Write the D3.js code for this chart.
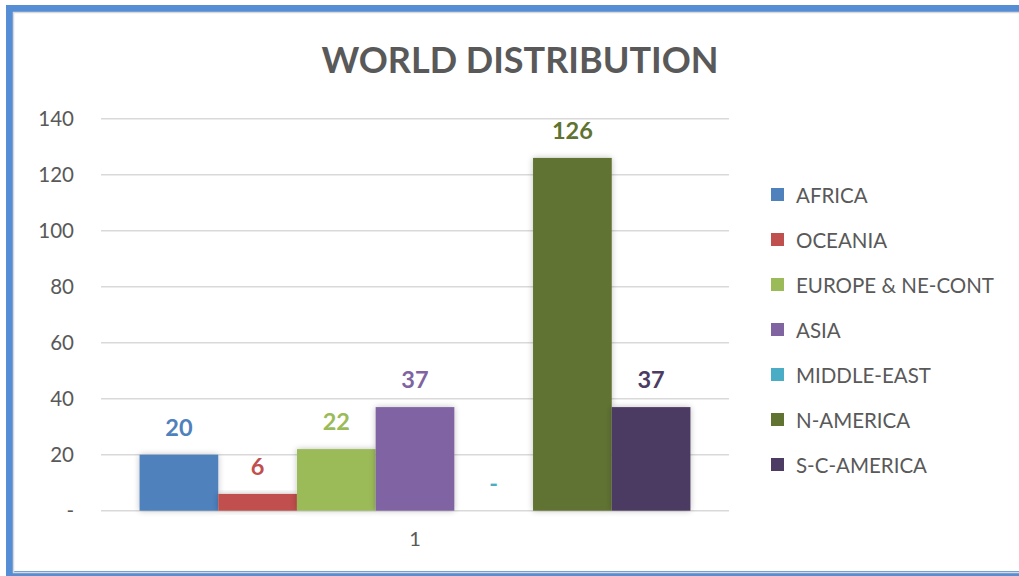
<!DOCTYPE html>
<html>
<head>
<meta charset="utf-8">
<script src="https://cdn.jsdelivr.net/npm/d3@7"></script>
<style>
  html, body { margin: 0; padding: 0; background: #fff; overflow: hidden; }
  text { font-family: Lato, "Open Sans", sans-serif; }
</style>
</head>
<body>
<div id="container"></div>
<script>
// data
var regions = ["AFRICA", "OCEANIA", "EUROPE & NE-CONT", "ASIA", "MIDDLE-EAST", "N-AMERICA", "S-C-AMERICA"];
var counts = [20, 6, 22, 37, 0, 126, 37];
var colors = ["#4f81bd", "#c0504d", "#9bbb59", "#8064a2", "#4bacc6", "#607330", "#4c3b62"];
var categories = ["1"];
var yTicks = [0, 20, 40, 60, 80, 100, 120, 140];

var W = 1019, H = 576;
var svg = d3.select("#container").append("svg").attr("width", W).attr("height", H);

// soft shadow for bars
var defs = svg.append("defs");
var f = defs.append("filter").attr("id", "shadow")
  .attr("x", "-20%").attr("y", "-20%").attr("width", "140%").attr("height", "140%");
f.append("feGaussianBlur").attr("in", "SourceAlpha").attr("stdDeviation", 3).attr("result", "b");
f.append("feComponentTransfer").append("feFuncA").attr("type", "linear").attr("slope", 0.25);
var m = f.append("feMerge");
m.append("feMergeNode");
m.append("feMergeNode").attr("in", "SourceGraphic");

// frame
svg.append("rect").attr("x", 9.5).attr("y", 8.5).attr("width", W + 20).attr("height", 568 - 2)
  .attr("fill", "none").attr("stroke", "#558ed5").attr("stroke-width", 7);
svg.append("rect").attr("x", 13.5).attr("y", 12.5).attr("width", W).attr("height", 560)
  .attr("fill", "none").attr("stroke", "#d9d9d9").attr("stroke-width", 1.5);

var plot = { left: 101, right: 729, top: 118.7, bottom: 510.7 };

var x0 = d3.scaleBand().domain(categories).range([plot.left, plot.right]).paddingInner(0).paddingOuter(0.07);
var x1 = d3.scaleBand().domain(regions).range([0, x0.bandwidth()]).padding(0);
var y = d3.scaleLinear().domain([0, 140]).range([plot.bottom, plot.top]);

// title
svg.append("text").attr("x", 520).attr("y", 73).attr("text-anchor", "middle")
  .attr("font-size", 36).attr("font-weight", "bold").attr("fill", "#595959")
  .text("WORLD DISTRIBUTION");

// gridlines
svg.append("g").selectAll("line").data(yTicks).enter().append("line")
  .attr("x1", plot.left).attr("x2", plot.right)
  .attr("y1", d => y(d)).attr("y2", d => y(d))
  .attr("stroke", "#d9d9d9").attr("stroke-width", 1.5);

// y axis
var yAxis = d3.axisLeft(y).tickValues(yTicks).tickSize(0).tickPadding(0)
  .tickFormat(d => d === 0 ? "-" : d);
var ya = svg.append("g").attr("transform", "translate(74,0)").call(yAxis);
ya.select(".domain").remove();
ya.selectAll("text").attr("font-size", 20.5).attr("fill", "#595959")
  .attr("font-family", "Lato, 'Open Sans', sans-serif");

// x axis
var xAxis = d3.axisBottom(x0).tickSize(0).tickPadding(0);
var xa = svg.append("g").attr("transform", "translate(0," + (plot.bottom + 21) + ")").call(xAxis);
xa.select(".domain").remove();
xa.selectAll("text").attr("font-size", 20).attr("fill", "#595959")
  .attr("font-family", "Lato, 'Open Sans', sans-serif");

// bars
var g = svg.append("g").attr("transform", "translate(" + x0("1") + ",0)");
g.selectAll("rect").data(regions).enter().append("rect")
  .attr("x", d => x1(d))
  .attr("width", x1.bandwidth())
  .attr("y", (d, i) => y(counts[i]))
  .attr("height", (d, i) => plot.bottom - y(counts[i]))
  .attr("fill", (d, i) => colors[i])
  .attr("filter", "url(#shadow)");

// value labels
g.selectAll("text").data(regions).enter().append("text")
  .attr("x", d => x1(d) + x1.bandwidth() / 2)
  .attr("y", (d, i) => y(counts[i]) - 19)
  .attr("text-anchor", "middle")
  .attr("font-size", 23.5).attr("font-weight", "bold")
  .attr("fill", (d, i) => colors[i])
  .text((d, i) => counts[i] === 0 ? "-" : counts[i]);

// legend
var lg = svg.append("g").attr("transform", "translate(771,195)");
var item = lg.selectAll("g").data(regions).enter().append("g")
  .attr("transform", (d, i) => "translate(0," + i * 45 + ")");
item.append("rect").attr("x", 0).attr("y", -7).attr("width", 13).attr("height", 13)
  .attr("fill", (d, i) => colors[i]);
item.append("text").attr("x", 25).attr("y", 7.5).attr("font-size", 20.5)
  .attr("fill", "#595959").text(d => d);
</script>
</body>
</html>
